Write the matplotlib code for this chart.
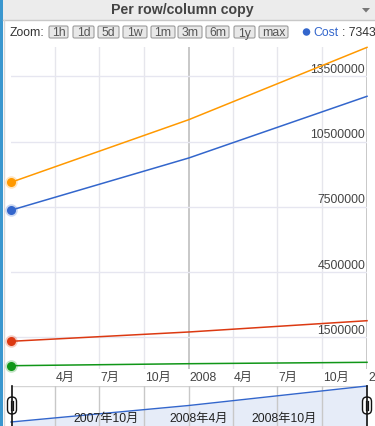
import matplotlib
matplotlib.use("Agg")
import matplotlib.pyplot as plt
import matplotlib.dates as mdates
from matplotlib.patches import Rectangle, FancyBboxPatch, Ellipse, Polygon
from matplotlib.transforms import offset_copy
import pandas as pd

plt.rcParams["font.family"] = ["Liberation Sans", "Noto Sans CJK JP", "DejaVu Sans"]

# data
dates = pd.to_datetime(["2007-01-01", "2008-01-01", "2009-01-01"])
series_orange = [8626000, 11505000, 14830000]
cost = [7343000, 9744000, 12580000]
series_red = [1316000, 1744000, 2263000]
series_green = [194000, 286000, 350000]

yticks = [1500000, 4500000, 7500000, 10500000, 13500000]
xtick_dates = pd.to_datetime(["2007-04-01", "2007-07-01", "2007-10-01", "2008-01-01",
                              "2008-04-01", "2008-07-01", "2008-10-01", "2009-01-01"])
xtick_labels = ["4月", "7月", "10月", "2008", "4月", "7月", "10月", "2009"]
year_lines = pd.to_datetime(["2008-01-01", "2009-01-01"])
nav_dates = pd.to_datetime(["2007-10-01", "2008-04-01", "2008-10-01"])
nav_labels = ["2007年10月", "2008年4月", "2008年10月"]
buttons = ["1h", "1d", "5d", "1w", "1m", "3m", "6m", "1y", "max"]
button_x = [(49, 68), (73, 94), (98, 119), (123, 147), (151, 175), (178, 202),
            (206, 229), (234, 255), (259, 288)]

W, H = 375, 427
fig = plt.figure(figsize=(W / 100, H / 100), dpi=100)
fig.patch.set_facecolor("white")

def box(x0, y0, x1, y1):
    return [x0 / W, 1 - y1 / H, (x1 - x0) / W, (y1 - y0) / H]

# chrome layer in pixel coordinates
bg = fig.add_axes([0, 0, 1, 1], zorder=0)
bg.set_xlim(0, W); bg.set_ylim(H, 0); bg.axis("off")
bg.add_patch(Rectangle((0, 0), W, 21, color="#ececec", lw=0))
bg.plot([3, W], [21, 21], color="#c8c8c8", lw=1)
bg.plot([4, 4], [21, H], color="#d8d8d8", lw=1)
bg.add_patch(Rectangle((0, 0), 3.2, H, color="#3a97cf", lw=0))
bg.text(182, 14, "Per row/column copy", ha="center", va="baseline",
        fontsize=10.2, fontweight="bold", color="#444444")
bg.add_patch(Polygon([[362, 9], [370, 9], [366, 13.5]], closed=True, color="#777777", lw=0))

# zoom toolbar
bg.text(10, 33, "Zoom:", ha="left", va="center", fontsize=8.8, color="#333333")
for lab, (x0, x1) in zip(buttons, button_x):
    bg.add_patch(FancyBboxPatch((x0, 27), x1 - x0, 12, boxstyle="round,pad=0,rounding_size=1.5",
                                fc="#e8e8e8", ec="#9c9c9c", lw=0.8))
    bg.text((x0 + x1) / 2, 33.5, lab, ha="center", va="center", fontsize=8.8, color="#555555")
bg.add_patch(Ellipse((306.5, 33), 7.5, 7.5, color="#3366cc", lw=0))
bg.text(313, 33.5, "Cost", ha="left", va="center", fontsize=8.8, color="#3366cc")
bg.text(342, 33.5, ": 7343", ha="left", va="center", fontsize=8.8, color="#333333")

# main chart
ax = fig.add_axes(box(11, 48, 367, 370), zorder=2)
ax.set_facecolor("none")
ax.set_xlim(mdates.date2num(dates[0]), mdates.date2num(dates[-1]))
ax.set_ylim(42500, 14847000)
for s in ax.spines.values():
    s.set_visible(False)
ax.tick_params(left=False, bottom=False, labelleft=False, labelbottom=False)
for d in xtick_dates:
    c = "#c4c4c4" if d in year_lines else "#e6e6ec"
    ax.axvline(mdates.date2num(d), color=c, lw=1.3 if d in year_lines else 1, zorder=0)
for v in yticks:
    ax.axhline(v, color="#e6e6f0", lw=1, zorder=0)
    ax.text(0.995, v, f"{v}", transform=offset_copy(ax.get_yaxis_transform(), fig=fig, y=1.5, units="dots"),
            ha="right", va="bottom", fontsize=8.8, color="#444444", zorder=1)
for d, lab in zip(xtick_dates, xtick_labels):
    ax.text(mdates.date2num(d), -0.025, lab,
            transform=offset_copy(ax.get_xaxis_transform(), fig=fig, x=1, units="dots"),
            ha="left", va="center", fontsize=8.8, color="#444444", clip_on=False)

for vals, col in [(series_orange, "#ff9900"), (cost, "#3366cc"),
                  (series_red, "#dc3912"), (series_green, "#109618")]:
    ax.plot(dates, vals, color=col, lw=1.1, zorder=3, clip_on=False)
    ax.plot(dates[:1], vals[:1], "o", color=col, ms=9, alpha=0.25, mew=0, zorder=4, clip_on=False)
    ax.plot(dates[:1], vals[:1], "o", color=col, ms=6.5, mew=0, zorder=5, clip_on=False)

# range navigator
nav = fig.add_axes(box(11, 387, 367, 427), zorder=2)
nav.set_facecolor("none")
nav.set_xlim(mdates.date2num(dates[0]), mdates.date2num(dates[-1]))
nav.set_ylim(6760000, 12580000)
for s in nav.spines.values():
    s.set_visible(False)
nav.tick_params(left=False, bottom=False, labelleft=False, labelbottom=False)
nav.axhline(12580000, color="#d4d4d4", lw=1, zorder=0)
nav.fill_between(dates, cost, 6760000, color="#e6ecf8", lw=0, zorder=1)
for d in xtick_dates[:-1]:
    nav.axvline(mdates.date2num(d), color="#c8c8c8", lw=1, zorder=2)
nav.plot(dates, cost, color="#3366cc", lw=1, zorder=3, clip_on=False)
for d, lab in zip(nav_dates, nav_labels):
    nav.text(mdates.date2num(d), 0.2, lab,
             transform=offset_copy(nav.get_xaxis_transform(), fig=fig, x=-5, units="dots"),
             ha="right", va="center", fontsize=8.8, color="#222222", zorder=4)

# navigator handles
for hx in [12, 367]:
    bg2 = bg
    fig_ax = fig.add_axes([0, 0, 1, 1], zorder=5)
    fig_ax.set_xlim(0, W); fig_ax.set_ylim(H, 0); fig_ax.axis("off")
    fig_ax.plot([hx, hx], [387, H], color="#111111", lw=1.2)
    fig_ax.add_patch(FancyBboxPatch((hx - 4.5, 398), 9, 17, boxstyle="round,pad=0,rounding_size=4.5",
                                    fc="white", ec="#111111", lw=1))
    fig_ax.plot([hx - 1.3, hx - 1.3], [402, 411], color="#111111", lw=0.9)
    fig_ax.plot([hx + 1.3, hx + 1.3], [402, 411], color="#111111", lw=0.9)

fig.savefig("out.png", dpi=100)
